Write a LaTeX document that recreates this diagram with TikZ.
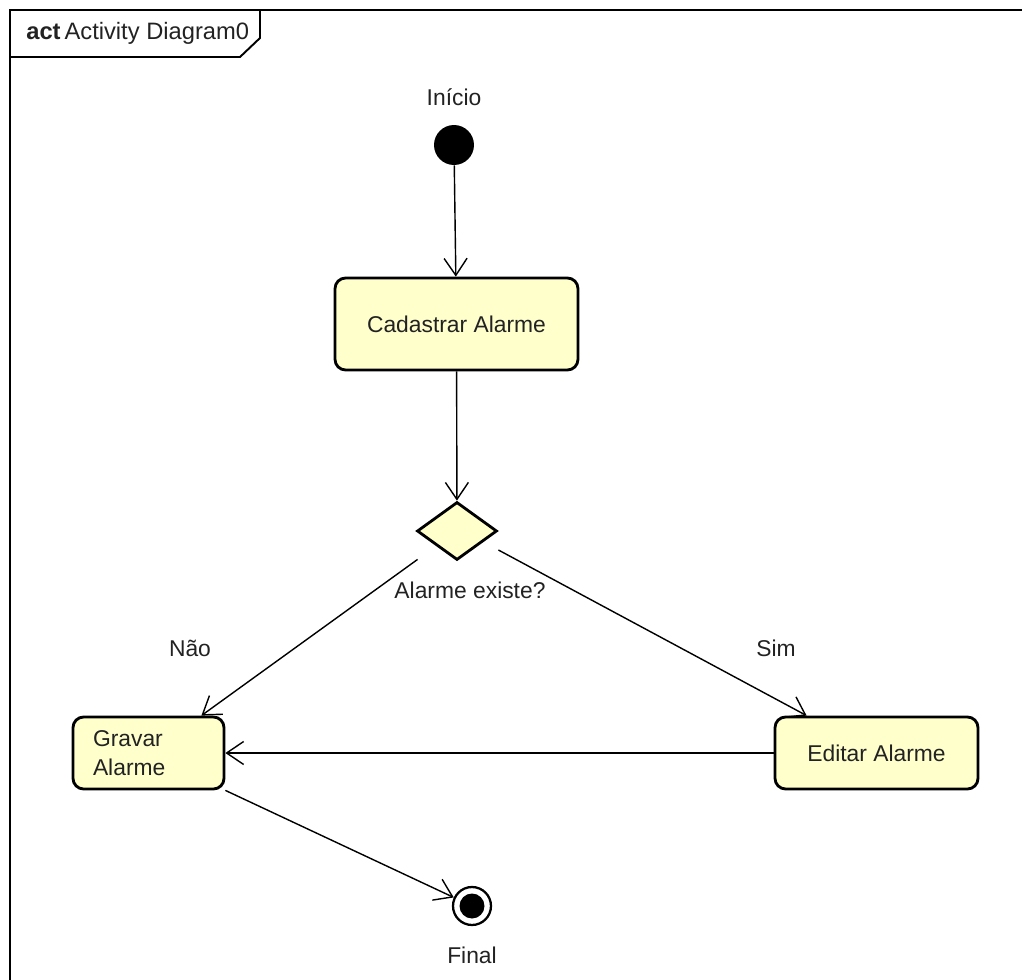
\documentclass[tikz,border=0pt]{standalone}
\usepackage{fontspec}
\setmainfont{Liberation Sans}
\usetikzlibrary{shapes.geometric,arrows.meta}
\definecolor{actfill}{RGB}{255,255,204}
\definecolor{txt}{RGB}{34,34,34}
\tikzset{
  lbl/.style={text=txt, font=\fontsize{13pt}{16.5pt}\selectfont},
  action/.style={lbl, draw, line width=1.6pt, rounded corners=6pt, fill=actfill, minimum height=1.44cm},
  decision/.style={draw, diamond, line width=1.6pt, fill=actfill, inner sep=0pt, minimum width=1.6cm, minimum height=1.16cm},
  flow/.style={line width=0.8pt, -{Straight Barb[length=3.4mm,width=4.6mm]}},
}

\begin{document}
\begin{tikzpicture}[x=0.02cm, y=-0.02cm]
    \useasboundingbox (0,0) rectangle (1022,980);
    % frame
    \draw[line width=1.1pt] (10,980) -- (10,10) -- (1022,10);
    \draw[line width=1.1pt] (10,10) -- (260,10) -- (260,38) -- (240,57) -- (10,57);
    \node[lbl, font=\fontsize{13.5pt}{16pt}\selectfont, anchor=west, inner sep=0pt] (title) at (26,33) {\textbf{act}\,Activity Diagram0};
    % states
    \node[circle, fill=black, minimum size=0.8cm, inner sep=0pt,
          label={[lbl, yshift=0.26cm]above:Início}] (start) at (454,145) {};
    \node[action, minimum width=4.86cm, minimum height=1.84cm] (cadastrar) at (456.5,324) {Cadastrar Alarme};
    \node[decision, label={[lbl, xshift=0.26cm, yshift=-0.28cm]below:Alarme existe?}] (alarme) at (457,531) {};
    \node[action, align=left, text width=2.22cm, inner xsep=0.4cm] (gravar) at (148.5,753) {Gravar\\Alarme};
    \node[action, minimum width=4.06cm] (editar) at (876.5,753) {Editar Alarme};
    \node[circle, draw, line width=1.3pt, minimum size=0.76cm, inner sep=0pt,
          path picture={\fill (path picture bounding box.center) circle (0.25cm);},
          label={[lbl, yshift=-0.3cm]below:Final}] (final) at (472,906) {};
    % guards
    \node[lbl] (nao) at (190,648) {Não};
    \node[lbl] (sim) at (776,648) {Sim};
    % flows
    \draw[flow] (start) -- (cadastrar);
    \draw[flow] (cadastrar) -- (alarme);
    \draw[flow] ([xshift=0.04cm,yshift=0.04cm]alarme.west |- alarme.south) -- ([xshift=-0.48cm]gravar.north east);
    \draw[flow] ([yshift=-0.38cm]alarme.east) -- ([xshift=0.66cm]editar.north west);
    \draw[flow] (editar.west) -- (gravar.east);
    \draw[flow] (gravar.south east) -- (final);
\end{tikzpicture}
\end{document}
